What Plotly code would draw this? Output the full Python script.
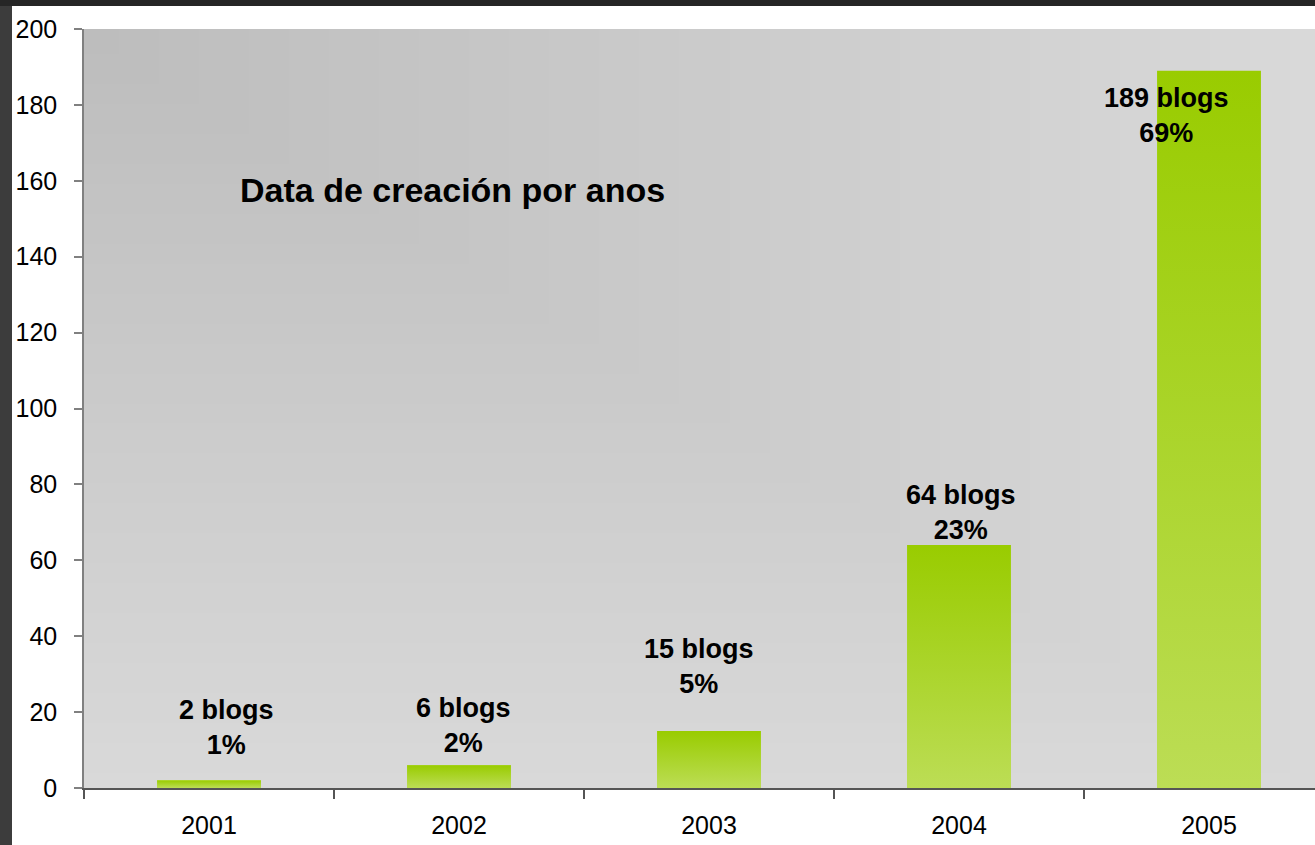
import base64
import struct
import zlib

import plotly.graph_objects as go

# ---------------- data ----------------
years = ["2001", "2002", "2003", "2004", "2005"]
blogs = [2, 6, 15, 64, 189]
percent = ["1%", "2%", "5%", "23%", "69%"]
y_ticks = [0, 20, 40, 60, 80, 100, 120, 140, 160, 180, 200]
title_text = "Data de creación por anos"

# ---------------- style ----------------
FONT = "Liberation Sans, Arial, sans-serif"
BAR_WIDTH = 0.415
BAR_TOP = "#99cc00"
BAR_BOTTOM = "#bcdd55"
label_xshift = [17, 4, -10, 2, -43]
label_yshift = [53, 40, 65, 33, -45]

W, H = 1315, 845
ML, MT, MB = 84, 29, 57
PW = W - ML
PH = H - MT - MB


def gradient_png(w, h, c0, c1):
    rows = bytearray()
    for j in range(h):
        rows.append(0)
        for i in range(w):
            t = max(i / (w - 1), j / (h - 1))
            rows.append(int(round(c0 + (c1 - c0) * t)))

    def chunk(tag, data):
        return (struct.pack(">I", len(data)) + tag + data
                + struct.pack(">I", zlib.crc32(tag + data) & 0xFFFFFFFF))

    png = (b"\x89PNG\r\n\x1a\n"
           + chunk(b"IHDR", struct.pack(">IIBBBBB", w, h, 8, 0, 0, 0, 0))
           + chunk(b"IDAT", zlib.compress(bytes(rows)))
           + chunk(b"IEND", b""))
    return "data:image/png;base64," + base64.b64encode(png).decode()


fig = go.Figure()

xs = list(range(len(years)))

# real bar trace (data), overlaid by gradient-filled shapes of the same bars
fig.add_trace(go.Bar(x=xs, y=blogs, width=BAR_WIDTH, marker=dict(color=BAR_BOTTOM, line=dict(width=0)),
                     hovertext=[f"{y}: {b} blogs ({p})" for y, b, p in zip(years, blogs, percent)],
                     hoverinfo="text"))

for i, v in zip(xs, blogs):
    fig.add_trace(go.Scatter(
        x=[i - BAR_WIDTH / 2, i + BAR_WIDTH / 2, i + BAR_WIDTH / 2, i - BAR_WIDTH / 2, i - BAR_WIDTH / 2],
        y=[0, 0, v, v, 0],
        mode="lines", line=dict(width=0), fill="toself",
        fillgradient=dict(type="vertical", colorscale=[[0, BAR_BOTTOM], [1, BAR_TOP]]),
        hoverinfo="skip",
    ))

for i, (v, p) in enumerate(zip(blogs, percent)):
    fig.add_annotation(
        x=xs[i], y=v, xref="x", yref="y",
        text=f"<b>{v} blogs</b><br><b>{p}</b>",
        showarrow=False, xanchor="center", yanchor="middle",
        xshift=label_xshift[i], yshift=label_yshift[i],
        font=dict(family=FONT, size=27, color="black"),
    )

fig.add_annotation(
    x=(452 - ML) / PW, y=(H - MB - 190) / PH, xref="paper", yref="paper",
    text=f"<b>{title_text}</b>", showarrow=False,
    xanchor="center", yanchor="middle",
    font=dict(family=FONT, size=34, color="black"),
)

# dark frame strips at top and left
fig.add_shape(type="rect", xref="paper", yref="paper",
              x0=-ML / PW, x1=(12 - ML) / PW, y0=-MB / PH, y1=(H - MB) / PH,
              fillcolor="#3c3c3c", line=dict(width=0), layer="above")
fig.add_shape(type="rect", xref="paper", yref="paper",
              x0=-ML / PW, x1=1.0, y0=(H - MB - 6) / PH, y1=(H - MB) / PH,
              fillcolor="#262626", line=dict(width=0), layer="above")

fig.add_layout_image(dict(
    source=gradient_png(123, 76, 189, 217),
    xref="paper", yref="paper", x=0, y=1, sizex=1, sizey=1,
    xanchor="left", yanchor="top", sizing="stretch", layer="below",
))

fig.update_layout(
    width=W, height=H,
    margin=dict(l=ML, r=0, t=MT, b=MB, pad=0),
    paper_bgcolor="white",
    plot_bgcolor="rgba(0,0,0,0)",
    showlegend=False,
    bargap=0,
    font=dict(family=FONT, size=25, color="black"),
)

fig.update_xaxes(
    range=[-0.5, 4.424], tickmode="array", tickvals=xs, ticktext=years,
    ticks="", showgrid=False, zeroline=False,
    showline=True, linecolor="#555555", linewidth=1.5,
    tickfont=dict(family=FONT, size=25, color="black"),
    ticklabelstandoff=14,
    minor=dict(tickmode="array", tickvals=[-0.5, 0.5, 1.5, 2.5, 3.5],
               ticks="outside", ticklen=9, tickcolor="#555555", tickwidth=1.5, showgrid=False),
)

fig.update_yaxes(
    range=[0, 200], tickmode="array", tickvals=y_ticks,
    ticks="outside", ticklen=8, tickcolor="#808080", tickwidth=1.5,
    showgrid=False, zeroline=False,
    showline=True, linecolor="#808080", linewidth=1.5,
    tickfont=dict(family=FONT, size=25, color="black"),
    ticklabelstandoff=12,
)

fig.write_html("out.html", config={"displayModeBar": False},
               post_script="document.body.style.margin='0';document.body.style.overflow='hidden';")
